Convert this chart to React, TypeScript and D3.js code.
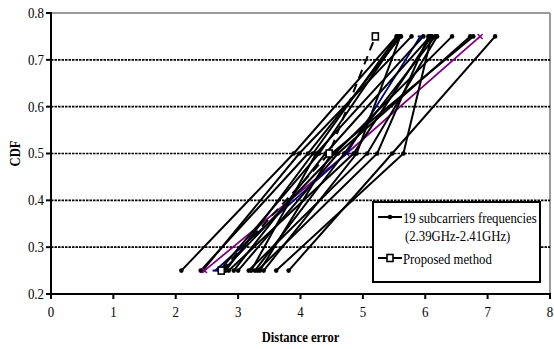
import * as d3 from 'd3'
import React from 'react'

// CDF levels shared by every series
const cdfLevels = [0.25, 0.5, 0.75]

// distance error at CDF 0.25 / 0.5 / 0.75 for the 19 subcarrier frequencies
const errAt25 = [2.09, 2.4, 2.43, 2.46, 2.63, 2.7, 2.76, 2.8, 2.85, 2.93, 3.0, 3.17, 3.21, 3.27, 3.31, 3.35, 3.61, 3.41, 3.81]
const errAt50 = [3.89, 4.12, 3.98, 4.74, 4.74, 4.3, 4.55, 4.2, 4.85, 4.4, 4.6, 5.07, 4.25, 4.7, 5.23, 4.5, 5.65, 4.9, 5.47]
const errAt75 = [5.54, 5.61, 5.78, 6.88, 5.92, 5.58, 6.43, 5.55, 6.1, 6.08, 6.72, 6.19, 5.97, 6.16, 6.05, 6.77, 6.1, 5.6, 7.12]
const seriesColors = ['#000', '#000', '#000', '#800080', '#000080', '#000', '#000', '#000', '#000', '#000', '#000', '#000', '#000', '#000', '#000', '#000', '#000', '#000', '#000']

// proposed method
const proposedErr = [2.73, 4.46, 5.2]

const xTicks = [0, 1, 2, 3, 4, 5, 6, 7, 8]
const yTicks = [0.2, 0.3, 0.4, 0.5, 0.6, 0.7, 0.8]
const gridTicks = [0.3, 0.4, 0.5, 0.6, 0.7]

const width = 554
const height = 349
const margin = { left: 51, right: 4, top: 13, bottom: 55 }

const font = '"Liberation Serif", "Times New Roman", serif'

// narrow-ish serif text like the scanned figure
const T = ({ x, y, size = 14, anchor = 'start', bold = false, rotate = 0, sx = 0.9, children }: any) => (
    <text
        transform={`translate(${x},${y}) rotate(${rotate}) scale(${sx},1)`}
        dy="0.35em"
        textAnchor={anchor}
        fontSize={size}
        fontWeight={bold ? 'bold' : 'normal'}
    >
        {children}
    </text>
)

export default function App() {
    const x = d3.scaleLinear().domain([0, 8]).range([margin.left, width - margin.right])
    const y = d3.scaleLinear().domain([0.2, 0.8]).range([height - margin.bottom, margin.top])

    const line = d3
        .line<[number, number]>()
        .x(d => x(d[0]))
        .y(d => y(d[1]))

    const subcarriers = errAt25.map((v, i) => [
        [v, cdfLevels[0]],
        [errAt50[i], cdfLevels[1]],
        [errAt75[i], cdfLevels[2]]
    ]) as [number, number][][]

    const proposed = proposedErr.map((v, i) => [v, cdfLevels[i]]) as [number, number][]

    const x0 = x(0)
    const x8 = x(8)
    const yTop = y(0.8)
    const yBot = y(0.2)

    // legend box
    const lg = { x: 373, y: 202, w: 167, h: 80 }

    return (
        <svg width={width} height={height} style={{ position: 'absolute', left: 0, top: 0, background: '#fff' }} fontFamily={font}>
            {/* plot border (grey top/right) */}
            <line x1={x0} x2={x8} y1={yTop} y2={yTop} stroke="#9a9a9a" strokeWidth={2} />
            <line x1={x8} x2={x8} y1={yTop} y2={yBot} stroke="#9a9a9a" strokeWidth={2} />

            {/* grid */}
            {gridTicks.map(t => (
                <line key={t} x1={x0} x2={x8} y1={y(t)} y2={y(t)} stroke="#000" strokeWidth={1.7} strokeDasharray="2.5,1" />
            ))}

            {/* subcarrier series */}
            {subcarriers.map((s, i) => (
                <g key={i}>
                    <path d={line(s)} fill="none" stroke={seriesColors[i]} strokeWidth={seriesColors[i] === '#000' ? 2 : 1.8} />
                    {s.map((p, j) =>
                        seriesColors[i] === '#800080' ? (
                            <g key={j} stroke="#800080" strokeWidth={1.5}>
                                <line x1={x(p[0]) - 2.5} x2={x(p[0]) + 2.5} y1={y(p[1]) - 2.5} y2={y(p[1]) + 2.5} />
                                <line x1={x(p[0]) - 2.5} x2={x(p[0]) + 2.5} y1={y(p[1]) + 2.5} y2={y(p[1]) - 2.5} />
                            </g>
                        ) : seriesColors[i] === '#000080' ? (
                            <rect key={j} x={x(p[0]) - 2.5} y={y(p[1]) - 1} width={5} height={2} fill="#000080" />
                        ) : (
                            <circle key={j} cx={x(p[0])} cy={y(p[1])} r={2.3} fill="#000" />
                        )
                    )}
                </g>
            ))}

            {/* proposed method */}
            <path d={line(proposed)} fill="none" stroke="#000" strokeWidth={2} strokeDasharray="9,6" />
            {proposed.map((p, i) => (
                <rect key={i} x={x(p[0]) - 3} y={y(p[1]) - 3.5} width={6} height={7} fill="#fff" stroke="#000" strokeWidth={1.6} />
            ))}

            {/* axes */}
            <line x1={x0} x2={x0} y1={yTop - 1} y2={yBot} stroke="#000" strokeWidth={2} />
            <line x1={x0 - 1} x2={x8 + 1} y1={yBot} y2={yBot} stroke="#000" strokeWidth={2} />
            {yTicks.map(t => (
                <g key={t}>
                    <line x1={x0 - 5} x2={x0} y1={y(t)} y2={y(t)} stroke="#000" strokeWidth={2} />
                    <T x={x0 - 7} y={y(t)} anchor="end" sx={0.92}>
                        {t.toFixed(1)}
                    </T>
                </g>
            ))}
            {xTicks.map(t => (
                <g key={t}>
                    <line x1={x(t)} x2={x(t)} y1={yBot} y2={yBot + 5} stroke="#000" strokeWidth={2} />
                    <T x={x(t)} y={yBot + 18} anchor="middle" sx={0.92}>
                        {t}
                    </T>
                </g>
            ))}

            <T x={15} y={y(0.5)} anchor="middle" bold rotate={-90}>
                CDF
            </T>
            <T x={(x0 + x8) / 2} y={337} anchor="middle" bold>
                Distance error
            </T>

            {/* legend */}
            <rect x={lg.x} y={lg.y} width={lg.w} height={lg.h} fill="#fff" stroke="#000" strokeWidth={2} />
            <line x1={lg.x + 5} x2={lg.x + 29} y1={lg.y + 15} y2={lg.y + 15} stroke="#000" strokeWidth={2} />
            <circle cx={lg.x + 17} cy={lg.y + 15} r={2.3} fill="#000" />
            <T x={lg.x + 30} y={lg.y + 16} sx={0.91}>
                19 subcarriers frequencies
            </T>
            <T x={lg.x + 32} y={lg.y + 34} sx={0.91}>
                (2.39GHz-2.41GHz)
            </T>
            <line x1={lg.x + 5} x2={lg.x + 29} y1={lg.y + 56} y2={lg.y + 56} stroke="#000" strokeWidth={2} />
            <rect x={lg.x + 14} y={lg.y + 52.5} width={6} height={7} fill="#fff" stroke="#000" strokeWidth={1.6} />
            <T x={lg.x + 30} y={lg.y + 57} sx={0.91}>
                Proposed method
            </T>
        </svg>
    )
}
